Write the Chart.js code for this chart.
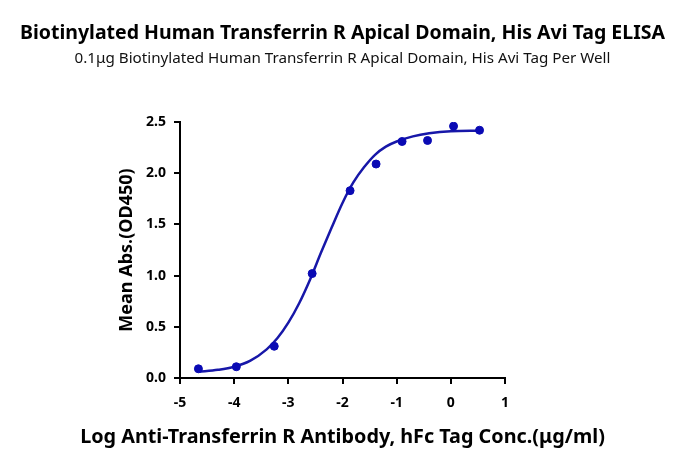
<!DOCTYPE html>
<html>
<head>
<meta charset="utf-8">
<script src="https://cdn.jsdelivr.net/npm/chart.js@4"></script>
<style>
  body { margin: 0; background: #fff; }
</style>
</head>
<body>
<canvas id="elisa" width="685" height="463"></canvas>
<script>
// measured points (log conc, OD450)
const logConc = [-4.66, -3.96, -3.26, -2.56, -1.86, -1.38, -0.90, -0.43, 0.05, 0.53];
const meanAbs = [0.09, 0.11, 0.31, 1.02, 1.83, 2.09, 2.31, 2.32, 2.46, 2.42];

// fitted curve
const curveX = [-4.66, -4.3, -4.0, -3.7, -3.4, -3.2, -3.0, -2.8, -2.6, -2.4, -2.2, -2.0, -1.8, -1.6, -1.4, -1.2, -1.0, -0.7, -0.4, 0.0, 0.53];
const curveY = [0.06, 0.08, 0.11, 0.17, 0.28, 0.39, 0.54, 0.73, 0.96, 1.22, 1.47, 1.71, 1.91, 2.06, 2.18, 2.26, 2.31, 2.36, 2.39, 2.41, 2.415];

const xTicks = [-5, -4, -3, -2, -1, 0, 1];
const yTicks = [0, 0.5, 1, 1.5, 2, 2.5];

const xTitle = "Log Anti-Transferrin R Antibody, hFc Tag Conc.(μg/ml)";

const font = "'Noto Sans', sans-serif";

const pts = logConc.map((x, i) => ({ x: x, y: meanAbs[i] }));
const fit = curveX.map((x, i) => ({ x: x, y: curveY[i] }));

// the built-in scale title gets squeezed to the plot width, this one is wider
const xTitlePlugin = {
  id: "xTitle",
  afterDraw(chart) {
    const c = chart.ctx;
    const area = chart.chartArea;
    c.save();
    c.fillStyle = "#000";
    c.font = "bold 19.8px " + font;
    c.textAlign = "center";
    c.textBaseline = "middle";
    c.fillText(xTitle, (area.left + area.right) / 2, 437);
    c.restore();
  },
};

const ctx = document.getElementById("elisa");

new Chart(ctx, {
  type: "scatter",
  data: {
    datasets: [
      {
        label: "data",
        data: pts,
        backgroundColor: "#0a0ab4",
        borderColor: "#0a0ab4",
        pointRadius: 4,
        pointHoverRadius: 4,
      },
      {
        label: "fit",
        data: fit,
        showLine: true,
        borderColor: "#1717a8",
        borderWidth: 2.5,
        pointRadius: 0,
        cubicInterpolationMode: "monotone",
        fill: false,
      },
    ],
  },
  options: {
    responsive: false,
    animation: false,
    devicePixelRatio: 1,
    layout: {
      padding: { left: 0, right: 0, top: 0, bottom: 0 },
    },
    plugins: {
      legend: { display: false },
      tooltip: { enabled: false },
      title: {
        display: true,
        text: "Biotinylated Human Transferrin R Apical Domain, His Avi Tag ELISA",
        color: "#000",
        font: { family: font, size: 19.5, weight: "bold" },
        padding: { top: 22, bottom: 4 },
      },
      subtitle: {
        display: true,
        text: "0.1μg Biotinylated Human Transferrin R Apical Domain, His Avi Tag Per Well",
        color: "#111",
        font: { family: font, size: 15.2, weight: "normal" },
        padding: { top: 0, bottom: 54.4 },
      },
    },
    scales: {
      x: {
        type: "linear",
        min: -5,
        max: 1,
        afterBuildTicks: (s) => { s.ticks = xTicks.map((v) => ({ value: v })); },
        afterFit: (s) => { s.height = 85; },
        border: { color: "#000", width: 2 },
        grid: { drawOnChartArea: false, drawTicks: true, tickLength: 6, color: "#000", lineWidth: 2 },
        ticks: {
          color: "#000",
          font: { family: font, size: 14, weight: "bold" },
          padding: 11,
        },
      },
      y: {
        type: "linear",
        min: 0,
        max: 2.5,
        afterBuildTicks: (s) => { s.ticks = yTicks.map((v) => ({ value: v })); },
        afterFit: (s) => { s.width = 180; },
        border: { color: "#000", width: 2 },
        grid: { drawOnChartArea: false, drawTicks: true, tickLength: 6, color: "#000", lineWidth: 2 },
        ticks: {
          color: "#000",
          font: { family: font, size: 14, weight: "bold" },
          padding: 8,
          callback: (v) => v.toFixed(1),
        },
        title: {
          display: true,
          text: "Mean Abs.(OD450)",
          color: "#000",
          font: { family: font, size: 18, weight: "bold" },
          padding: { top: 116, bottom: 4 },
        },
      },
      // empty right-hand box so the plot sits left of centre like the original
      spacer: {
        type: "linear",
        position: "right",
        afterFit: (s) => { s.width = 180; },
        border: { display: false },
        grid: { display: false },
        ticks: { display: false },
      },
    },
  },
  plugins: [xTitlePlugin],
});
</script>
</body>
</html>
